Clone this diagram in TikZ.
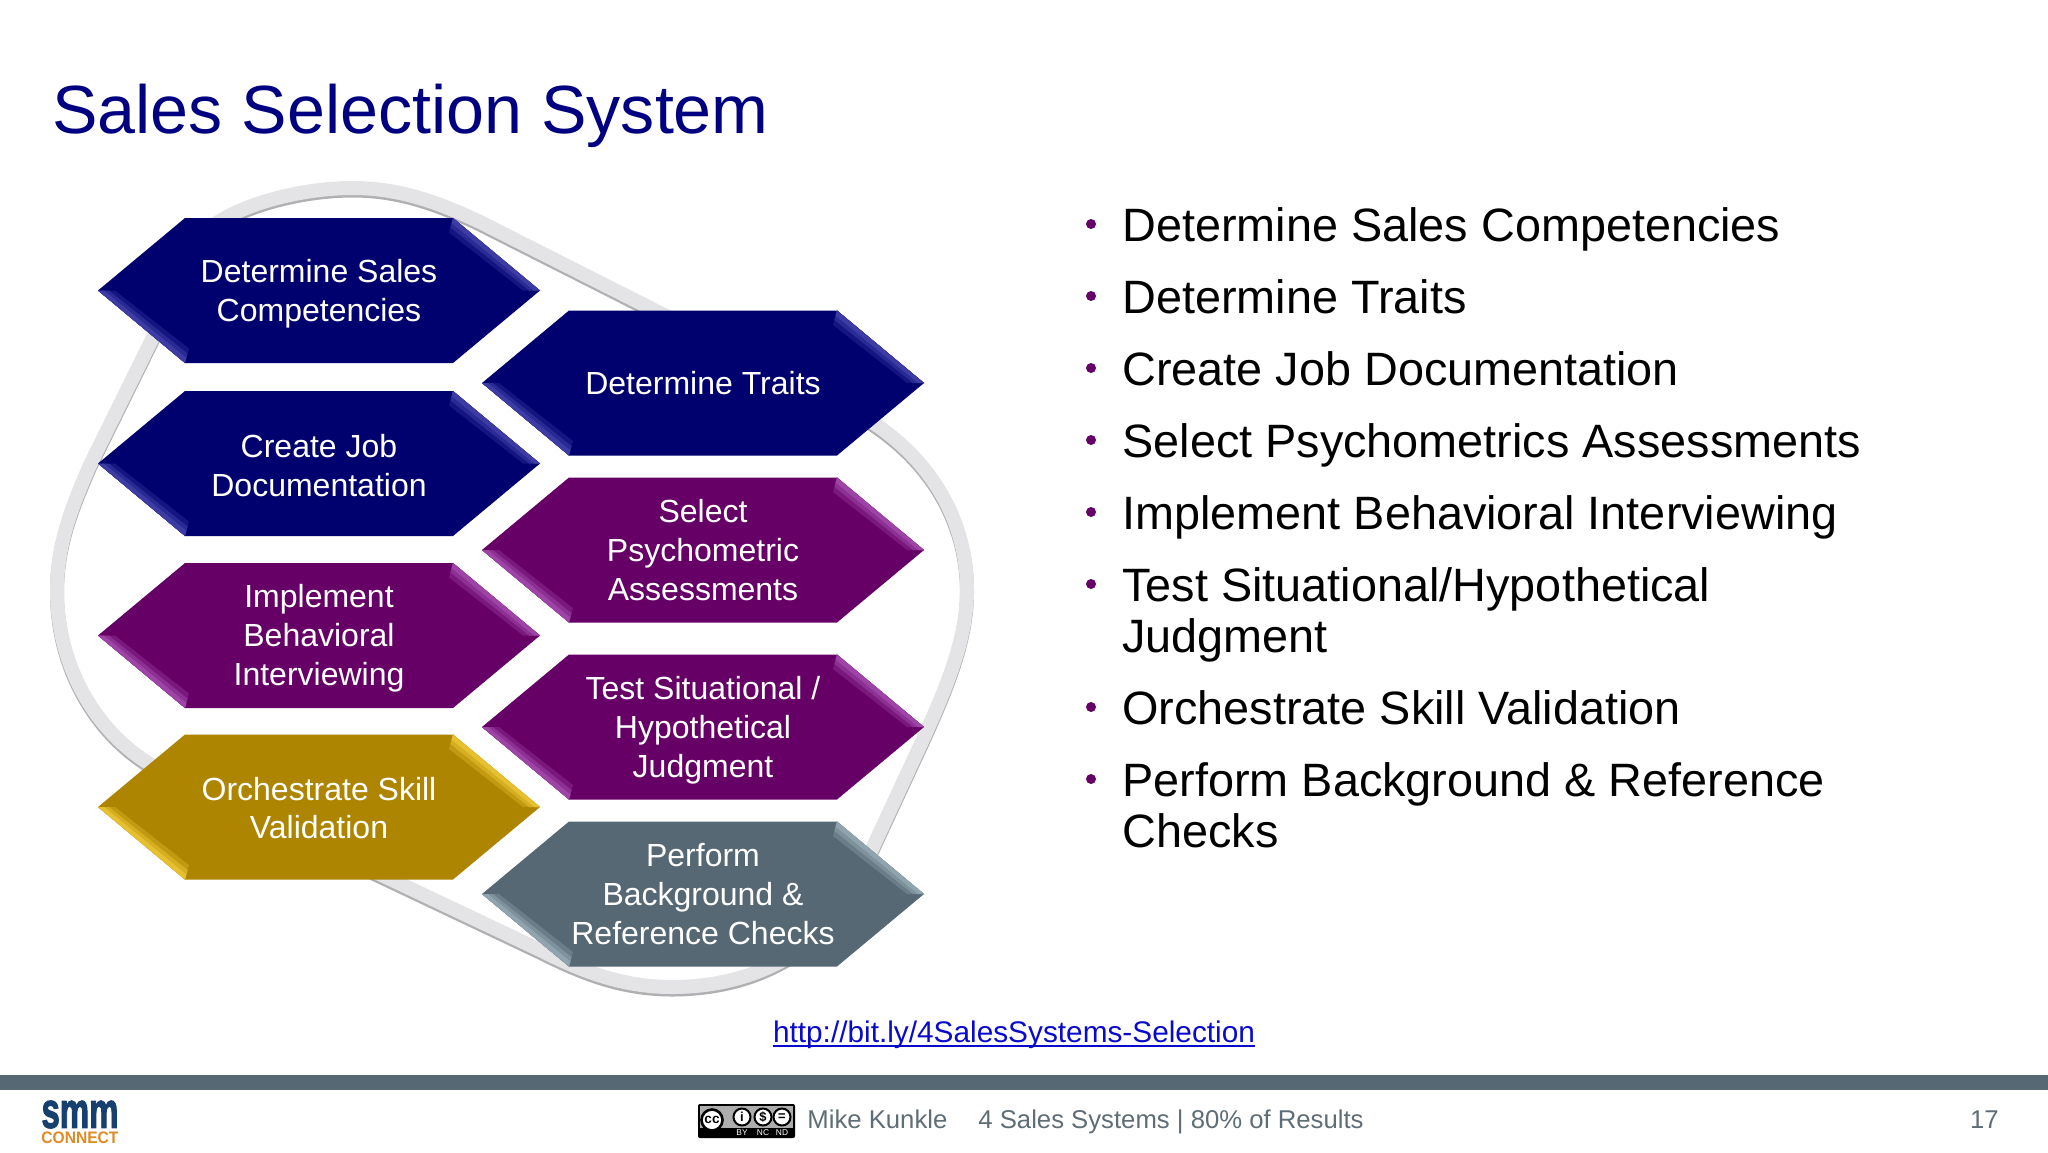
\documentclass[tikz,border=0pt]{standalone}
\usepackage{fontspec}
\setmainfont{Liberation Sans}
\newfontfamily\logofont[FakeBold=2.5]{Liberation Sans Bold}
\usetikzlibrary{calc}
\definecolor{navyT}{HTML}{000080}
\definecolor{navyH}{HTML}{00006E}
\definecolor{navyB}{HTML}{3C3CA4}
\definecolor{purpH}{HTML}{660066}
\definecolor{purpB}{HTML}{9E44A6}
\definecolor{goldH}{HTML}{AD8500}
\definecolor{goldB}{HTML}{E6C030}
\definecolor{grayH}{HTML}{566873}
\definecolor{grayB}{HTML}{8FA4AE}
\definecolor{ringC}{HTML}{E4E4E7}
\definecolor{ringS}{HTML}{B0B0B2}
\definecolor{footG}{HTML}{5F6E76}
\definecolor{logoB}{HTML}{17406F}
\definecolor{logoO}{HTML}{E08A25}
\definecolor{linkC}{HTML}{0A0ACD}
\tikzset{
  x=0.5pt,y=-0.5pt,
  hextext/.style={text=white,align=center,font=\fontsize{16}{19.4}\selectfont,inner sep=0pt},
  bullettext/.style={anchor=north west,align=left,inner sep=0pt,font=\fontsize{23.4}{25.5}\selectfont},
  dot/.style={circle,fill=purpH,inner sep=0pt,minimum size=5pt},
  foot/.style={text=footG,font=\fontsize{12.85}{15}\selectfont,inner sep=0pt},
  ccring/.style={draw=black,fill=white,line width=1pt,circle,inner sep=0pt,font=\bfseries\fontsize{6.5}{7}\selectfont},
  cclab/.style={text=white,font=\fontsize{4.2}{5}\selectfont,inner sep=0pt}
}
\newcommand{\bevel}[2]{%
  \fill[#2!35!#1] (134,-72.5) -- (221,0) -- (204,0) -- (130,-58) -- cycle;
  \fill[#2!70!#1] (134,-72.5) -- (221,0) -- (210,0) -- (131.4,-63.1) -- cycle;
  \fill[#2] (134,-72.5) -- (221,0) -- (215,0) -- (132.6,-67.4) -- cycle;}
\newcommand{\hexa}[7]{%
  \begin{scope}[shift={(#2,#3)}]
    \fill[#4] (-134,-72.5) -- (134,-72.5) -- (221,0) -- (134,72.5) -- (-134,72.5) -- (-221,0) -- cycle;
    \bevel{#4}{#5}
    \begin{scope}[xscale=-1,yscale=-1]\bevel{#4}{#5}\end{scope}
    \node[hextext] (#1) at (0,#6) {#7};
  \end{scope}}
\begin{document}
\begin{tikzpicture}
\useasboundingbox (0,0) rectangle (2048,1152);
\fill[white] (0,0) rectangle (2048,1152);
% ring
\newcommand{\ringpath}{(353,188) .. controls (400,188) and (440,203) .. (480,222) -- (840,404) .. controls (925,445) and (967,515) .. (967,590) .. controls (967,640) and (945,690) .. (925,735) -- (860,875) .. controls (830,945) and (760,987) .. (672,987) .. controls (620,987) and (580,970) .. (540,950) -- (160,770) .. controls (95,735) and (57,665) .. (57,590) .. controls (57,540) and (75,500) .. (90,465) -- (205,232) .. controls (235,205) and (300,188) .. cycle}
\draw[ringS,line width=7pt,line join=round,shift={(0,2.5)}] \ringpath;
\draw[ringC,line width=7pt,line join=round] \ringpath;
\node[anchor=west,text=navyT,font=\fontsize{34.1}{40}\selectfont,inner sep=0pt] (title) at (52,116) {Sales Selection System};
% hexagons
\hexa{h1}{319}{290.5}{navyH}{navyB}{3}{Determine Sales\\Competencies}
\hexa{h2}{319}{463.5}{navyH}{navyB}{2}{Create Job\\Documentation}
\hexa{h3}{319}{635.5}{purpH}{purpB}{3}{Implement\\Behavioral\\Interviewing}
\hexa{h4}{319}{807}{goldH}{goldB}{1}{Orchestrate Skill\\Validation}
\hexa{h5}{703}{383}{navyH}{navyB}{0}{Determine Traits}
\hexa{h6}{703}{550}{purpH}{purpB}{0}{Select\\Psychometric\\Assessments}
\hexa{h7}{703}{727}{purpH}{purpB}{3}{Test Situational /\\Hypothetical\\Judgment}
\hexa{h8}{703}{894}{grayH}{grayB}{0}{Perform\\Background \&\\Reference Checks}
% bullets
\node[dot] (d1) at (1091,224) {}; \node[bullettext] (b1) at (1122,207) {Determine Sales Competencies};
\node[dot] (d2) at (1091,296) {}; \node[bullettext] (b2) at (1122,279) {Determine Traits};
\node[dot] (d3) at (1091,368) {}; \node[bullettext] (b3) at (1122,351) {Create Job Documentation};
\node[dot] (d4) at (1091,440) {}; \node[bullettext] (b4) at (1122,423) {Select Psychometrics Assessments};
\node[dot] (d5) at (1091,512) {}; \node[bullettext] (b5) at (1122,495) {Implement Behavioral Interviewing};
\node[dot] (d6) at (1091,584) {}; \node[bullettext] (b6) at (1122,567) {Test Situational/Hypothetical\\Judgment};
\node[dot] (d7) at (1091,707) {}; \node[bullettext] (b7) at (1122,690) {Orchestrate Skill Validation};
\node[dot] (d8) at (1091,779) {}; \node[bullettext] (b8) at (1122,762) {Perform Background \& Reference\\Checks};
% link
\node[text=linkC,font=\fontsize{14.9}{17}\selectfont,inner sep=0pt,text depth=0pt,anchor=base] (link) at (1014,1042) {http://bit.ly/4SalesSystems-Selection};
\draw[linkC,line width=0.6pt] ($(link.south west)+(0,3.5)$) -- ($(link.south east)+(0,3.5)$);
% footer
\fill[grayH] (0,1075) rectangle (2048,1090);
\node[inner sep=0pt] (smm) at (80,1114.5) {\resizebox{38.5pt}{13.5pt}{\textcolor{logoB}{\logofont smm}}};
\node[inner sep=0pt] (conn) at (80,1138) {\resizebox{38.5pt}{5.8pt}{\textcolor{logoO}{\bfseries CONNECT}}};
\fill[black,rounded corners=1pt] (698,1104) rectangle (795,1138);
\fill[white!68!black] (700,1106) rectangle (793,1128);
\node[ccring,minimum size=10.5pt,line width=1.3pt,font=\bfseries\fontsize{6.8}{7}\selectfont] (cc) at (712,1120) {cc};
\node[ccring,minimum size=8.5pt] (by) at (742,1117) {i};
\node[ccring,minimum size=8.5pt] (nc) at (763,1117) {\$};
\node[ccring,minimum size=8.5pt] (nd) at (782,1117) {=};
\node[cclab] (bylab) at (742,1133) {BY};
\node[cclab] (nclab) at (763,1133) {NC};
\node[cclab] (ndlab) at (782,1133) {ND};
\node[foot,anchor=base west] (author) at (807,1128) {Mike Kunkle};
\node[foot,anchor=base west] (deck) at (978,1128) {4 Sales Systems | 80\% of Results};
\node[foot,anchor=base east] (page) at (1999,1128) {17};
\end{tikzpicture}
\end{document}
